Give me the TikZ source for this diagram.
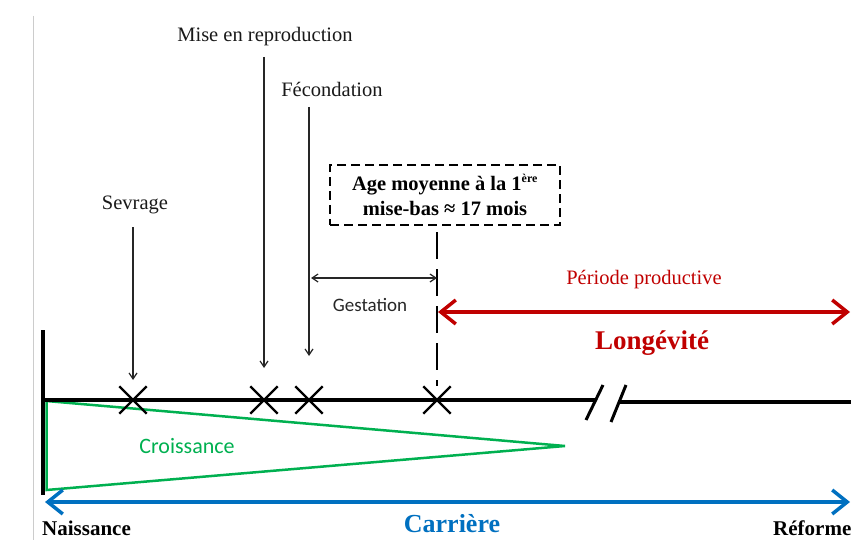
\documentclass[tikz,border=0pt]{standalone}
\usepackage{fontspec}
\setmainfont{Liberation Serif}
\newfontfamily\calib{Carlito}
\usetikzlibrary{arrows.meta,shapes.misc}
\definecolor{rred}{RGB}{192,0,0}
\definecolor{bblue}{RGB}{0,112,192}
\definecolor{ggreen}{RGB}{0,176,80}
\begin{document}
\begin{tikzpicture}[x=1pt,y=-1pt,
  lbl/.style={font=\fontsize{20.5}{24}\selectfont, inner sep=0pt, text=black!90},
  xmark/.style={cross out, draw, line width=2.4pt, minimum size=25pt, inner sep=0pt},
  ptr/.style={-{Straight Barb[length=6pt,width=8pt]}, line width=1.2pt, draw=black!85},
  bigtip/.style={{Straight Barb[length=15pt,width=24pt]}-{Straight Barb[length=15pt,width=24pt]}},
]
\useasboundingbox (0,0) rectangle (851,540);
% faint left border
\draw[black!20, line width=1pt] (33,16) -- (33,540);

% timeline coordinates
\coordinate (bartop) at (43,330);
\coordinate (barbot) at (43,495);
\coordinate (t0) at (44,400);
\coordinate (g0) at (46.5,401);
\coordinate (tb1) at (595,400);
\coordinate (tb2) at (619,402);
\coordinate (tend) at (851,402);

% growth triangle
\coordinate (gtip) at (565,446);
\coordinate (gbot) at (46.5,490);
\draw[ggreen, line width=2.5pt, line join=miter] (g0) -- (gtip) -- (gbot) -- cycle;
\node[font=\calib\fontsize{22}{26}\selectfont, text=ggreen, inner sep=0pt] (crois) at (187,446) {Croissance};

% timeline
\draw[line width=4pt] (bartop) -- (barbot);
\draw[line width=3.5pt] (t0) -- (tb1);
\draw[line width=3.5pt] (tb2) -- (tend);
\draw[line width=3pt] (586,420) -- (603,385);
\draw[line width=3pt] (611,422) -- (626,385);

% crosses
\node[xmark] (x1) at (133,400) {};
\node[xmark] (x2) at (264,400) {};
\node[xmark] (x3) at (309,400) {};
\node[xmark] (x4) at (437,400) {};

% event labels
\node[lbl] (sev) at (135,205) {Sevrage};
\node[lbl] (mise) at (265,37) {Mise en reproduction};
\node[lbl] (fec) at (332,89) {Fécondation};
\coordinate (sevA) at (133,227);
\coordinate (sevB) at (133,380);
\coordinate (miseA) at (264,57);
\coordinate (miseB) at (264,368);
\coordinate (fecA) at (309,107);
\coordinate (fecB) at (309,356);
\draw[ptr] (sevA) -- (sevB);
\draw[ptr] (miseA) -- (miseB);
\draw[ptr] (fecA) -- (fecB);

% first calving box
\node[draw, dashed, dash pattern=on 9pt off 5pt, line width=1.6pt, minimum width=230pt, minimum height=60pt,
      align=center, font=\bfseries\fontsize{20.5}{25}\selectfont, inner sep=2pt] (box) at (445,195)
      {Age moyenne à la 1\textsuperscript{\fontsize{12}{12}\selectfont ère}\\mise-bas ≈ 17 mois};
\coordinate (dtop) at (437,232);
\coordinate (dbot) at (437,386);
\draw[line width=2.5pt, dash pattern=on 27pt off 10pt] (dtop) -- (dbot);

% gestation
\coordinate (gA) at (311,278);
\coordinate (gB) at (437,278);
\draw[{Straight Barb[length=6pt,width=8pt]}-{Straight Barb[length=6pt,width=8pt]}, line width=1.2pt, draw=black!85] (gA) -- (gB);
\node[font=\calib\fontsize{19}{22}\selectfont, text=black!85, inner sep=0pt] (gest) at (370,305) {Gestation};

% productive period
\coordinate (pA) at (438,312);
\coordinate (pB) at (850,312);
\draw[bigtip, rred, line width=3.5pt] (pA) -- (pB);
\node[lbl, text=rred] (prod) at (644,280) {Période productive};
\node[font=\bfseries\fontsize{27}{30}\selectfont, text=rred, inner sep=0pt] (long) at (652,343) {Longévité};

% career
\coordinate (cA) at (45,502);
\coordinate (cB) at (850,502);
\draw[bigtip, bblue, line width=3.5pt] (cA) -- (cB);
\node[font=\bfseries\fontsize{26}{30}\selectfont, text=bblue, inner sep=0pt] (car) at (452,524) {Carrière};
\node[font=\bfseries\fontsize{21}{24}\selectfont, inner sep=0pt, anchor=west] (nais) at (42,528) {Naissance};
\node[font=\bfseries\fontsize{21}{24}\selectfont, inner sep=0pt, anchor=west] (ref) at (773,528) {Réforme};
\end{tikzpicture}
\end{document}
